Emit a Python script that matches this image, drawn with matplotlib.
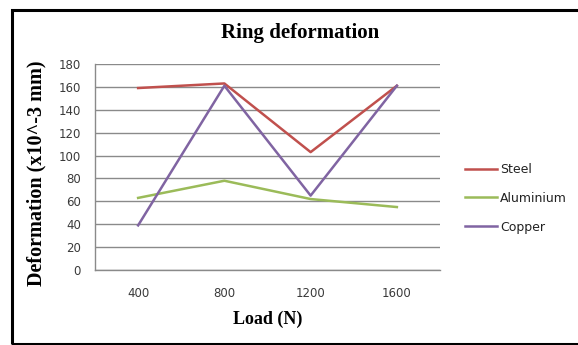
import matplotlib
matplotlib.use("Agg")
import matplotlib.pyplot as plt
from matplotlib.patches import Rectangle
from matplotlib.lines import Line2D

loads = ["400", "800", "1200", "1600"]
steel = [159, 163, 103, 161]
aluminium = [63, 78, 62, 55]
copper = [39, 161, 65, 161]
series_names = ["Steel", "Aluminium", "Copper"]
y_ticks = [0, 20, 40, 60, 80, 100, 120, 140, 160, 180]

colors = ["#c0504d", "#9bbb59", "#8064a2"]

W, H = 578, 345
fig = plt.figure(figsize=(W / 100, H / 100), dpi=100)
fig.patch.set_facecolor("white")

# outer frame
fig.add_artist(Rectangle((11.5 / W, 1.5 / H), (W + 20) / W, (H - 11.5) / H,
                         transform=fig.transFigure, fill=False,
                         edgecolor="black", linewidth=2.2))

ax = fig.add_axes([95 / W, (H - 270) / H, (440 - 95) / W, (270 - 64) / H])
xs = list(range(len(loads)))
for vals, name, c in zip([steel, aluminium, copper], series_names, colors):
    ax.plot(xs, vals, color=c, linewidth=1.8, label=name, zorder=3)

ax.set_xlim(-0.5, len(loads) - 0.5)
ax.set_ylim(0, 180)
ax.set_yticks(y_ticks)
ax.set_xticks(xs)
ax.set_xticklabels(loads)
ax.yaxis.grid(True, color="#8a8a8a", linewidth=1.0)
ax.set_axisbelow(True)
for s in ["top", "right"]:
    ax.spines[s].set_visible(False)
for s in ["left", "bottom"]:
    ax.spines[s].set_color("#8a8a8a")
    ax.spines[s].set_linewidth(1.0)
ax.tick_params(axis="both", length=0, labelsize=8.5, labelcolor="#3a3a3a")
ax.tick_params(axis="x", pad=12)
ax.tick_params(axis="y", pad=10)
for lbl in ax.get_xticklabels() + ax.get_yticklabels():
    lbl.set_family("DejaVu Sans")

ax.set_xlabel("Load (N)", family="Liberation Serif", fontweight="bold",
              fontsize=13, labelpad=8)
ax.set_ylabel("Deformation (x10^-3 mm)", family="Liberation Serif",
              fontweight="bold", fontsize=14.5, labelpad=8)
ax.yaxis.set_label_coords(-0.14, 0.47)
fig.text(300 / W, 1 - 33 / H, "Ring deformation", family="Liberation Serif",
         fontweight="bold", fontsize=15, ha="center", va="center")

handles = [Line2D([0], [0], color=c, linewidth=1.8) for c in colors]
leg = fig.legend(handles, series_names, loc="upper left",
                 bbox_to_anchor=(465 / W, 1 - 163 / H), frameon=False,
                 prop={"family": "DejaVu Sans", "size": 9}, labelcolor="#222222",
                 handlelength=2.56, handletextpad=0.25, labelspacing=1.26,
                 borderpad=0, borderaxespad=0)

fig.savefig("out.png", dpi=100, facecolor="white")
